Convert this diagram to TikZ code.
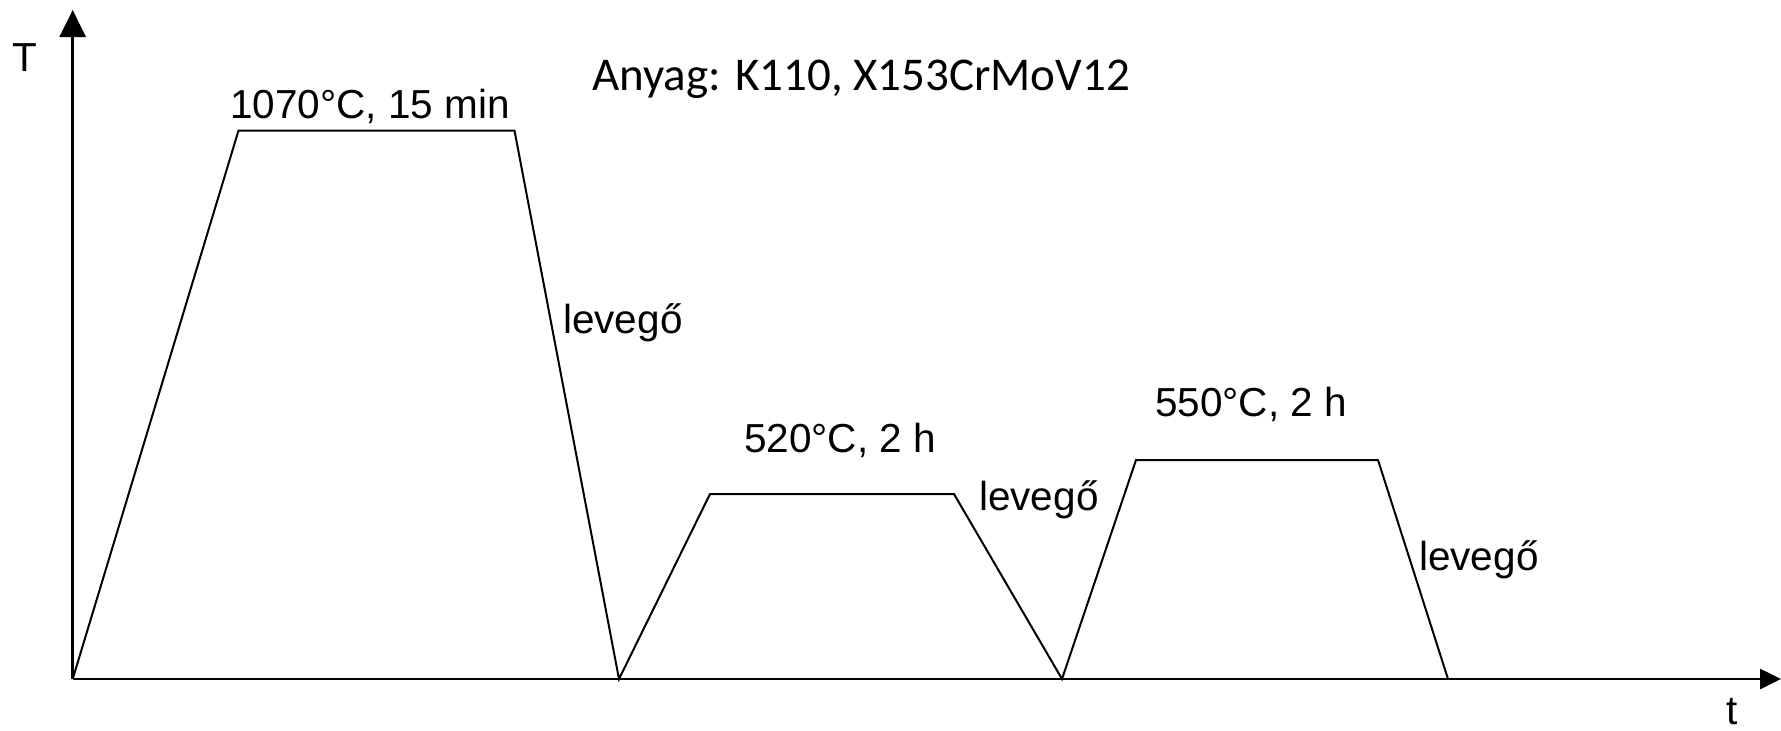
\documentclass[tikz,border=0pt]{standalone}
\usepackage{fontspec}
\setmainfont{Liberation Sans}
\newfontfamily\calib{Carlito}
\usetikzlibrary{arrows.meta}
\begin{document}
\begin{tikzpicture}[x=1pt,y=-1pt,
  axis/.style={line width=2.6pt},
  curve/.style={line width=2pt,line join=miter},
  lbl/.style={inner sep=0pt,anchor=base west,font=\fontsize{40.5}{42}\selectfont},
  ttl/.style={inner sep=0pt,anchor=base west,font=\calib\fontsize{47}{50}\selectfont}]
\useasboundingbox (0,0) rectangle (1781,731);
% axes
\coordinate (O) at (72.7,679);
\coordinate (Ty) at (72.7,10);
\coordinate (Tx) at (1781,679);
\draw[axis,-{Triangle[length=27pt,width=26pt]}] (O) -- (Ty);
\draw[axis,-{Triangle[length=21pt,width=20pt]}] (O) -- (Tx);
\node[lbl] (T) at (12,71) {T};
\node[lbl] (t) at (1726,724) {t};
% temperature programme
\coordinate (a1) at (238.5,130.6);
\coordinate (a2) at (514.5,130.6);
\coordinate (b0) at (619,679);
\coordinate (b1) at (710,494);
\coordinate (b2) at (954,494);
\coordinate (c0) at (1062,679);
\coordinate (c1) at (1136,460);
\coordinate (c2) at (1378,460);
\coordinate (d0) at (1448,679);
\draw[curve] (O) -- (a1) -- (a2) -- (b0) -- (b1) -- (b2) -- (c0) -- (c1) -- (c2) -- (d0);
% labels
\node[ttl] (mat) at (592,90) {Anyag: K110, X153CrMoV12};
\node[lbl] (h1) at (230,118) {1070°C, 15 min};
\node[lbl] (l1) at (563,333) {levegő};
\node[lbl] (h2) at (744,452) {520°C, 2 h};
\node[lbl] (l2) at (979,510) {levegő};
\node[lbl] (h3) at (1155,416) {550°C, 2 h};
\node[lbl] (l3) at (1419,570) {levegő};
\end{tikzpicture}
\end{document}
